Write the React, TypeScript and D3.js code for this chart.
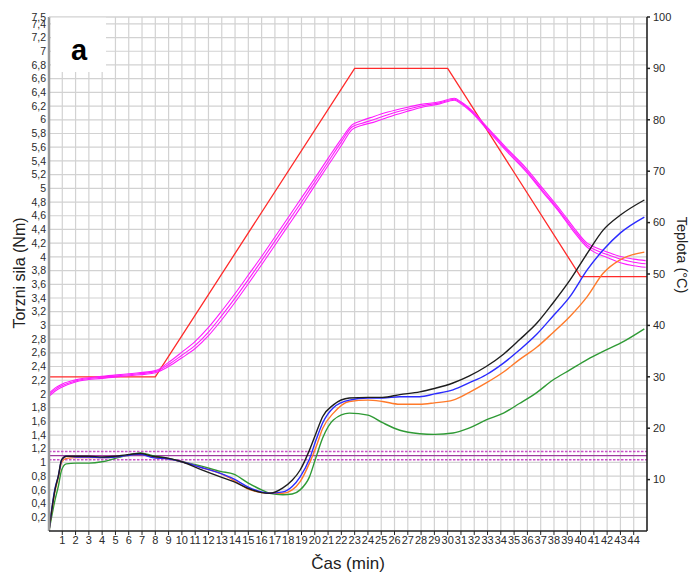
import * as d3 from "d3";
import React from "react";

// torque curves (left axis, Nm), sampled at shared times (min)
const torqueTime = [0, 0.45, 0.7, 0.95, 1.3, 2, 3, 4, 5, 5.8, 6.9, 7.8, 9, 10, 11.4, 12.9, 13.9, 15, 16, 16.6, 17.6, 18.3, 18.9, 19.6, 20.1, 20.6, 21.4, 22.6, 24, 25.1, 26.4, 27.9, 29, 30.4, 31.6, 32.9, 34.2, 35.4, 36.7, 37.9, 39.2, 40.5, 41.7, 43, 44.8];
const torqueBlack = [0, 0.6, 0.8, 1.04, 1.09, 1.09, 1.09, 1.08, 1.09, 1.11, 1.13, 1.09, 1.06, 1.01, 0.9, 0.79, 0.72, 0.62, 0.56, 0.55, 0.63, 0.74, 0.89, 1.18, 1.43, 1.67, 1.84, 1.94, 1.95, 1.95, 1.99, 2.03, 2.08, 2.16, 2.26, 2.4, 2.58, 2.79, 3.03, 3.32, 3.66, 4.05, 4.39, 4.61, 4.83];
const torqueBlue = [0, 0.62, 0.8, 1.03, 1.09, 1.08, 1.08, 1.07, 1.08, 1.1, 1.12, 1.07, 1.05, 1.01, 0.93, 0.84, 0.76, 0.64, 0.57, 0.55, 0.57, 0.65, 0.79, 1.05, 1.33, 1.58, 1.8, 1.91, 1.94, 1.94, 1.96, 1.96, 2.0, 2.06, 2.16, 2.28, 2.45, 2.64, 2.87, 3.13, 3.42, 3.81, 4.1, 4.35, 4.58];
const torqueOrange = [0, 0.58, 0.78, 1.0, 1.06, 1.07, 1.07, 1.07, 1.08, 1.1, 1.12, 1.08, 1.05, 1.01, 0.93, 0.84, 0.74, 0.61, 0.56, 0.55, 0.55, 0.6, 0.72, 0.99, 1.23, 1.5, 1.72, 1.89, 1.91, 1.89, 1.85, 1.85, 1.87, 1.91, 2.02, 2.16, 2.32, 2.5, 2.68, 2.89, 3.13, 3.42, 3.76, 3.96, 4.07];
const torqueGreen = [0, 0.45, 0.65, 0.89, 0.98, 0.99, 0.99, 1.01, 1.06, 1.1, 1.14, 1.1, 1.06, 1.01, 0.95, 0.87, 0.83, 0.7, 0.6, 0.55, 0.53, 0.54, 0.6, 0.79, 1.08, 1.36, 1.62, 1.72, 1.69, 1.58, 1.47, 1.42, 1.41, 1.43, 1.5, 1.62, 1.72, 1.86, 2.02, 2.2, 2.35, 2.5, 2.62, 2.74, 2.95];

// measured temperature (right axis, °C), three runs
const tempTime = [0, 0.5, 1, 2, 4, 6, 8, 9, 10, 11, 12, 13, 14, 15, 16, 17, 18, 19, 20, 21, 22, 22.8, 23.5, 24.4, 25.5, 26.9, 28, 29.4, 30.5, 31, 31.7, 33, 34.5, 35.9, 37.2, 38.5, 39.5, 40.5, 41, 42, 43, 44, 44.9];
const tempRun1 = [26.5, 27.6, 28.3, 29.2, 29.9, 30.4, 31, 32.4, 34.2, 36.1, 38.7, 41.9, 45.3, 48.9, 52.6, 56.4, 60.2, 64.0, 67.9, 71.8, 75.7, 78.6, 79.3, 80, 81, 82, 82.7, 83.3, 84, 83.3, 81.9, 78.3, 74, 70.2, 66.1, 62, 58.6, 55.6, 54.8, 53.8, 52.9, 52.3, 52.0];
const tempRun2 = [26.8, 27.9, 28.6, 29.4, 30.1, 30.6, 31.2, 32.8, 34.8, 36.9, 39.6, 42.8, 46.2, 49.8, 53.4, 57.2, 61.0, 64.8, 68.6, 72.5, 76.3, 79.0, 79.8, 80.6, 81.5, 82.4, 83.0, 83.5, 84.2, 83.5, 82.1, 78.5, 74.3, 70.6, 66.5, 62.4, 59.0, 56.0, 55.3, 54.3, 53.4, 52.9, 52.6];
const tempRun3 = [26.2, 27.3, 28.0, 29.0, 29.7, 30.2, 30.8, 32.0, 33.7, 35.5, 38.0, 41.1, 44.5, 48.1, 51.8, 55.6, 59.4, 63.2, 67.2, 71.1, 75.0, 78.1, 78.9, 79.5, 80.5, 81.6, 82.4, 83.1, 83.8, 83.1, 81.7, 78.0, 73.7, 69.9, 65.8, 61.7, 58.2, 55.2, 54.3, 53.2, 52.2, 51.6, 51.3];

// temperature program
const programTime = [0, 8, 23, 30, 40, 45];
const programTemp = [30, 30, 90, 90, 49.5, 49.5];

// reference torque band
const limitMid = 1.1;
const limitBand = [1.16, 1.04];

const timeTicks = d3.range(1, 45);
const torqueTicks = [...d3.range(1, 38).map(i => i * 0.2), 7.5];
const tempTicks = d3.range(10, 101, 10);

const W = 691, H = 573;
const L = 49, R = 647, T = 17, B = 531;

const fmt = (v: number) => String(Math.round(v * 10) / 10).replace(".", ",");

export default function App() {
    const x = d3.scaleLinear().domain([0, 45]).range([L, R]);
    const yL = d3.scaleLinear().domain([0, 7.5]).range([B, T]);
    const yR = d3.scaleLinear().domain([0, 100]).range([B, T]);

    const torqueLine = d3.line<number>().x((_, i) => x(torqueTime[i])).y(d => yL(d)).curve(d3.curveMonotoneX);
    const tempLine = d3.line<number>().x((_, i) => x(tempTime[i])).y(d => yR(d)).curve(d3.curveMonotoneX);
    const progLine = d3.line<number>().x((_, i) => x(programTime[i])).y(d => yR(d));

    const torque = [
        { v: torqueGreen, c: "#2f9a35" },
        { v: torqueOrange, c: "#ff7a2a" },
        { v: torqueBlue, c: "#2b2bff" },
        { v: torqueBlack, c: "#1e1e1e" },
    ];
    const font = "'Liberation Sans Narrow', 'Liberation Sans', Arial, sans-serif";

    return (
        <svg width={W} height={H} style={{ position: "absolute", left: 0, top: 0, background: "#fff" }}>
            <rect width={W} height={H} fill="#fff" />
            {/* grid */}
            <g stroke="#d2d2d2" strokeWidth={1.2}>
                {timeTicks.map(t => <line key={t} x1={x(t)} x2={x(t)} y1={T} y2={B} />)}
                {torqueTicks.map(v => <line key={v} x1={L} x2={R} y1={yL(v)} y2={yL(v)} />)}
            </g>
            {/* label box */}
            <rect x={51} y={T} width={55} height={55} fill="#fff" />
            <text x={79} y={60} textAnchor="middle" fontFamily="'Liberation Sans', Arial, sans-serif" fontWeight="bold" fontSize={29} fill="#000">a</text>

            {/* limit band */}
            {limitBand.map(v => (
                <line key={v} x1={L} x2={R} y1={yL(v)} y2={yL(v)} stroke="#c850c8" strokeWidth={1.3} strokeDasharray="2.5,1.5" />
            ))}
            <line x1={L} x2={R} y1={yL(limitMid)} y2={yL(limitMid)} stroke="#a03ca0" strokeWidth={1.4} />

            {/* program + measured temperature */}
            <path d={progLine(programTemp)!} fill="none" stroke="#ff2a2a" strokeWidth={1.3} />
            {[tempRun1, tempRun2, tempRun3].map((r, i) => (
                <path key={i} d={tempLine(r)!} fill="none" stroke="#ff1aff" strokeWidth={1.1} />
            ))}

            {/* torque */}
            {torque.map((s, i) => (
                <path key={i} d={torqueLine(s.v)!} fill="none" stroke={s.c} strokeWidth={1.4} />
            ))}

            {/* axes */}
            <line x1={L} x2={L} y1={T} y2={B} stroke="#9a9a9a" strokeWidth={2.5} />
            <line x1={L} x2={R} y1={T} y2={T} stroke="#d2d2d2" strokeWidth={1.2} />
            <line x1={L} x2={R} y1={B} y2={B} stroke="#222" strokeWidth={1.6} />
            <line x1={R} x2={R} y1={T} y2={B} stroke="#222" strokeWidth={1.6} />

            <g fontFamily={font} fontSize={10.5} fill="#2a2a2a">
                {torqueTicks.map(v => (
                    <text key={v} x={46} y={yL(v)} dy="0.35em" textAnchor="end">{fmt(v)}</text>
                ))}
            </g>
            <g fontFamily={font} fontSize={11} fill="#2a2a2a">
                {timeTicks.map(t => (
                    <g key={t}>
                        <line x1={x(t)} x2={x(t)} y1={B} y2={B + 4} stroke="#222" strokeWidth={1} />
                        <text x={x(t)} y={544} textAnchor="middle">{t}</text>
                    </g>
                ))}
            </g>
            <g fontFamily={font} fontSize={11} fill="#2a2a2a">
                {tempTicks.map(v => (
                    <g key={v}>
                        <line x1={R} x2={R + 3} y1={yR(v)} y2={yR(v)} stroke="#222" strokeWidth={1.5} />
                        <text x={653} y={yR(v)} dy="0.35em">{v}</text>
                    </g>
                ))}
            </g>

            {/* axis titles */}
            <text transform="translate(25,273) rotate(-90)" textAnchor="middle" fontFamily="'Liberation Sans', Arial, sans-serif" fontSize={16} fill="#222">Torzni sila (Nm)</text>
            <text transform="translate(677,255) rotate(90)" textAnchor="middle" fontFamily="'Liberation Sans', Arial, sans-serif" fontSize={14.5} fill="#222">Teplota (°C)</text>
            <text x={348} y={569} textAnchor="middle" fontFamily="'Liberation Sans', Arial, sans-serif" fontSize={17} fill="#222">Čas (min)</text>
        </svg>
    );
}
